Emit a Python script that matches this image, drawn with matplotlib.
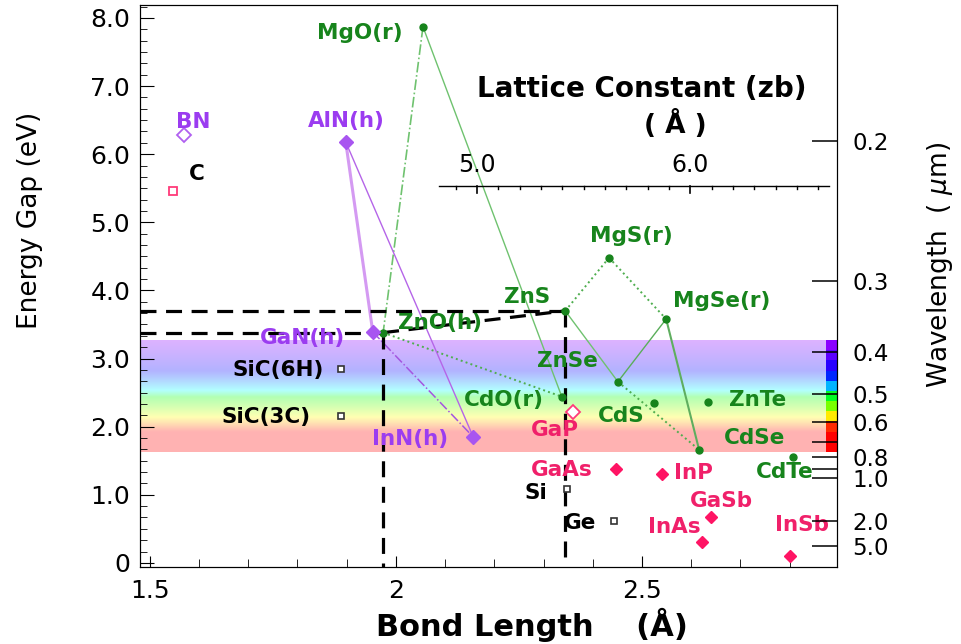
import numpy as np
import matplotlib
matplotlib.use('Agg')
import matplotlib.pyplot as plt
from matplotlib.ticker import MultipleLocator, AutoMinorLocator

# II-VI compounds: bond length (A), energy gap (eV)
g_names = ['MgO(r)', 'ZnO(h)', 'ZnS', 'MgS(r)', 'MgSe(r)', 'ZnSe', 'CdO(r)', 'CdS', 'ZnTe', 'CdSe', 'CdTe']
g_bond = [2.055, 1.974, 2.344, 2.433, 2.549, 2.451, 2.337, 2.524, 2.634, 2.616, 2.807]
g_gap = [7.87, 3.38, 3.70, 4.48, 3.58, 2.66, 2.44, 2.35, 2.36, 1.66, 1.56]

# nitrides
n_names = ['AlN(h)', 'GaN(h)', 'InN(h)']
n_bond = [1.898, 1.953, 2.157]
n_gap = [6.18, 3.39, 1.85]
bn_bond, bn_gap = 1.569, 6.28

# III-V
v_names = ['GaAs', 'InP', 'GaSb', 'InAs', 'InSb']
v_bond = [2.447, 2.541, 2.640, 2.622, 2.801]
v_gap = [1.38, 1.31, 0.68, 0.31, 0.10]
gap_bond, gap_gap = 2.360, 2.22
c_bond, c_gap = 1.547, 5.46

# group IV
iv_names = ['SiC(6H)', 'SiC(3C)', 'Si', 'Ge']
iv_bond = [1.888, 1.888, 2.348, 2.443]
iv_gap = [2.85, 2.16, 1.09, 0.62]

# wavelength axis (um)
wl_ticks = [0.2, 0.3, 0.4, 0.5, 0.6, 0.7, 0.8, 0.9, 1.0, 2.0, 5.0]
wl_labels = ['0.2', '0.3', '0.4', '0.5', '0.6', '', '0.8', '', '1.0', '2.0', '5.0']

# zincblende lattice constant axis (A)
lat_major = [5.0, 6.0]
lat_minor = [4.9, 5.1, 5.2, 5.3, 5.4, 5.5, 5.6, 5.7, 5.8, 5.9, 6.1, 6.2, 6.3, 6.4, 6.5, 6.6]
lat_range = [4.82, 6.65]
lat_level = 5.54

GREEN = '#17841c'
GLINE = '#6fc26f'
PURP = '#9b3cf0'
PINK = '#f0206a'

# label offsets in pixels
offs = {
	'MgO(r)': (-63, -6), 'ZnO(h)': (57, 10), 'ZnS': (-38, 14), 'MgS(r)': (22, 22),
	'MgSe(r)': (56, 18), 'ZnSe': (-50, 21), 'CdO(r)': (-58, -3), 'CdS': (-33, -13),
	'ZnTe': (50, 2), 'CdSe': (55, 12), 'CdTe': (-8, -15),
	'AlN(h)': (1, 21), 'GaN(h)': (-70, -6), 'InN(h)': (-63, -2), 'BN': (9, 13), 'C': (24, 17),
	'GaP': (-18, -18), 'GaAs': (-54, -1), 'InP': (31, 1), 'GaSb': (11, 16),
	'InAs': (-28, 15), 'InSb': (12, 31),
	'SiC(6H)': (-63, -1), 'SiC(3C)': (-75, -1), 'Si': (-31, -4), 'Ge': (-34, -2),
}

pts = {}
for nm, b, e in zip(g_names, g_bond, g_gap):
	pts[nm] = (b, e)
for nm, b, e in zip(n_names, n_bond, n_gap):
	pts[nm] = (b, e)

# alloy lines: (a, b, color, style, width)
links = [
	('MgO(r)', 'ZnO(h)', GLINE, '-.', 1.2),
	('MgO(r)', 'CdO(r)', GLINE, '-', 1.0),
	('ZnO(h)', 'CdO(r)', '#4fae4f', ':', 1.4),
	('ZnS', 'MgS(r)', '#4fae4f', ':', 1.4),
	('MgS(r)', 'MgSe(r)', '#4fae4f', ':', 1.4),
	('ZnS', 'ZnSe', GLINE, '-', 1.0),
	('ZnSe', 'MgSe(r)', '#5aae5a', '-', 1.0),
	('MgSe(r)', 'CdSe', '#5fae5f', '-', 1.5),
	('ZnSe', 'CdSe', '#4fae4f', ':', 1.4),
	('AlN(h)', 'GaN(h)', '#d49af2', '-', 2.2),
	('AlN(h)', 'InN(h)', '#b565e8', '-', 1.0),
	('GaN(h)', 'InN(h)', '#a455e0', '-.', 1.1),
]


def wl_rgb(w):
	if w < 440:
		c = (0.55 * (440 - w) / 60, 0.0, 1.0)
	elif w < 490:
		c = (0.0, (w - 440) / 50, 1.0)
	elif w < 510:
		c = (0.0, 1.0, (510 - w) / 20)
	elif w < 580:
		c = ((w - 510) / 70, 1.0, 0.0)
	elif w < 645:
		c = (1.0, (645 - w) / 65, 0.0)
	else:
		c = (1.0, 0.0, 0.0)
	return np.clip(c, 0, 1)


fig = plt.figure(figsize=(9.62, 6.44), dpi=100)
ax = fig.add_axes([0.1455, 0.1196, 0.7245, 0.8726])
xlim = (1.480, 2.896)
ylim = (-0.06, 8.19)

# visible band
e_lo, e_hi = 1.63, 3.26
ev = np.linspace(e_lo, e_hi, 120)
band = np.array([wl_rgb(1240.0 / e) for e in ev])[:, None, :]
ax.imshow(1 - 0.3 * (1 - band), extent=[xlim[0], xlim[1], e_lo, e_hi], origin='lower',
	aspect='auto', interpolation='bilinear', zorder=0)
ev2 = np.linspace(e_lo, e_hi, 11)
strip = np.array([wl_rgb(1240.0 / e) for e in ev2])[:, None, :]
ax.imshow(strip, extent=[2.874, xlim[1], e_lo, e_hi], origin='lower',
	aspect='auto', interpolation='nearest', zorder=1)

for a, b, col, ls, lw in links:
	ax.plot([pts[a][0], pts[b][0]], [pts[a][1], pts[b][1]], color=col, ls=ls, lw=lw, zorder=2)

# ZnO / ZnS guide lines
dash = dict(color='black', lw=2.3, ls=(0, (5, 3)), zorder=3)
for nm in ['ZnO(h)', 'ZnS']:
	b, e = pts[nm]
	ax.plot([xlim[0], b], [e, e], **dash)
	ax.plot([b, b], [e, ylim[0]], **dash)
ax.plot([pts['ZnO(h)'][0], pts['ZnS'][0]], [pts['ZnO(h)'][1], pts['ZnS'][1]], **dash)

# markers
ax.plot(g_bond, g_gap, 'o', color=GREEN, ms=5, zorder=4)
ax.plot(n_bond, n_gap, 'D', color='#a855f0', ms=7, zorder=4)
ax.plot([bn_bond], [bn_gap], 'D', mfc='none', mec='#b060f0', mew=1.3, ms=7, zorder=4)
ax.plot(v_bond, v_gap, 'D', color='#ff1464', ms=6, zorder=4)
ax.plot([gap_bond], [gap_gap], 'D', mfc='white', mec='#ff3a7a', mew=1.3, ms=7, zorder=4)
ax.plot([c_bond], [c_gap], 's', mfc='none', mec='#ff3a7a', mew=1.3, ms=6, zorder=4)
ax.plot(iv_bond, iv_gap, 's', mfc='white', mec='#333333', mew=1.2, ms=5, zorder=4)


def label(nm, x, y, col):
	ax.annotate(nm, (x, y), xytext=offs[nm], textcoords='offset pixels', ha='center',
		va='center', color=col, fontsize=15.5, fontweight='bold', zorder=5)


for nm, b, e in zip(g_names, g_bond, g_gap):
	label(nm, b, e, GREEN)
for nm, b, e in zip(n_names, n_bond, n_gap):
	label(nm, b, e, PURP)
label('BN', bn_bond, bn_gap, PURP)
for nm, b, e in zip(v_names, v_bond, v_gap):
	label(nm, b, e, PINK)
label('GaP', gap_bond, gap_gap, PINK)
label('C', c_bond, c_gap, 'black')
for nm, b, e in zip(iv_names, iv_bond, iv_gap):
	label(nm, b, e, 'black')

# lattice constant scale, a = 4 d / sqrt(3)
k = np.sqrt(3) / 4
ax.plot([lat_range[0] * k, lat_range[1] * k], [lat_level, lat_level], color='black', lw=1.0, zorder=3)
for a in lat_minor:
	ax.plot([a * k, a * k], [lat_level, lat_level - 0.05], color='black', lw=1.0, zorder=3)
for a in lat_major:
	ax.plot([a * k, a * k], [lat_level, lat_level - 0.11], color='black', lw=1.2, zorder=3)
	ax.text(a * k, lat_level + 0.3, '%.1f' % a, ha='center', va='center', fontsize=17, zorder=5)
ax.text(2.5, 6.95, 'Lattice Constant (zb)', ha='center', va='center', fontsize=20,
	fontweight='bold', zorder=5)
ax.text(2.567, 6.43, '( Å )', ha='center', va='center', fontsize=19, fontweight='bold', zorder=5)

ax.set_xlim(*xlim)
ax.set_ylim(*ylim)
ax.set_xticks([1.5, 2.0, 2.5])
ax.set_xticklabels(['1.5', '2', '2.5'])
ax.xaxis.set_minor_locator(MultipleLocator(0.1))
ax.set_yticks(range(9))
ax.set_yticklabels(['0'] + ['%.1f' % v for v in range(1, 9)])
ax.yaxis.set_minor_locator(AutoMinorLocator(6))
ax.tick_params(which='both', direction='in', top=False, right=False, labelsize=18)
ax.tick_params(axis='y', which='major', length=10, pad=7)
ax.tick_params(axis='y', which='minor', length=5)
ax.tick_params(axis='x', which='major', length=8, pad=9)
ax.tick_params(axis='x', which='minor', length=6)

ax2 = ax.twinx()
ax2.set_ylim(*ylim)
ax2.set_yticks([1.24 / w for w in wl_ticks])
ax2.set_yticklabels(wl_labels)
ax2.tick_params(direction='in', length=18, width=1.1, labelsize=16.5, pad=11)

fig.text(30 / 962, 1 - 220 / 644, 'Energy Gap (eV)', rotation=90, ha='center', va='center', fontsize=19)
fig.text(940 / 962, 1 - 265 / 644, 'Wavelength  ( $\\mu$m)', rotation=90, ha='center', va='center',
	fontsize=19)
fig.text(532 / 962, 1 - 625 / 644, 'Bond Length    (Å)', ha='center', va='center', fontsize=22,
	fontweight='bold')

fig.savefig('out.png', dpi=100)
